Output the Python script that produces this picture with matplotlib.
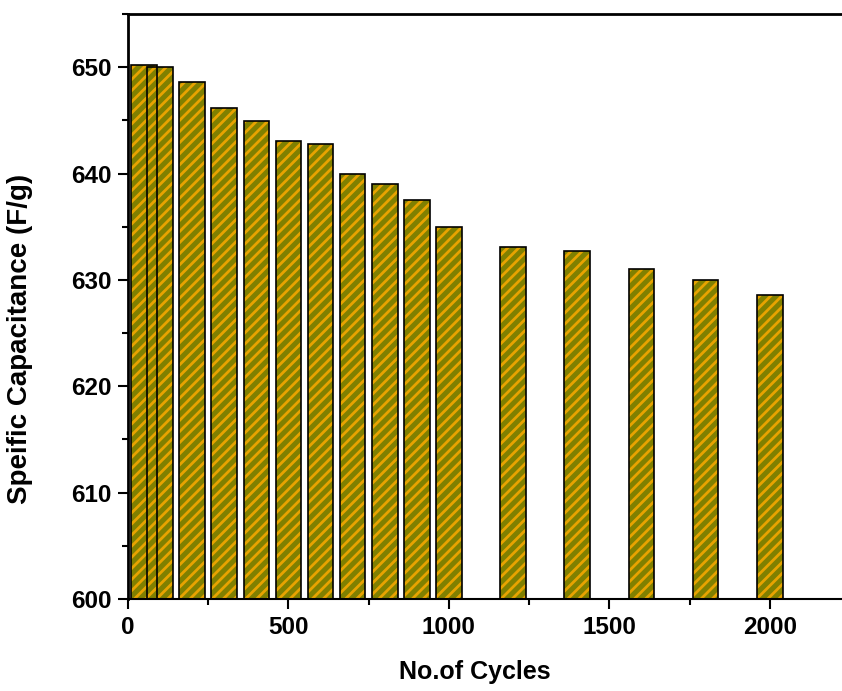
import matplotlib
matplotlib.use('Agg')
import matplotlib.pyplot as plt
from matplotlib.ticker import MultipleLocator

cycles = [50, 100, 200, 300, 400, 500, 600, 700, 800, 900, 1000,
          1200, 1400, 1600, 1800, 2000]
capacitance = [650.2, 650.0, 648.6, 646.2, 644.9, 643.1, 642.8, 640.0,
               639.0, 637.5, 635.0, 633.1, 632.7, 631.0, 630.0, 628.6]

plt.rcParams['font.family'] = ['Liberation Sans', 'DejaVu Sans']
plt.rcParams['font.weight'] = 'bold'
plt.rcParams['hatch.linewidth'] = 2.0

fig = plt.figure(figsize=(8.42, 6.91), dpi=100)
ax = fig.add_axes([128 / 842, 1 - 599 / 691, 714 / 842, 585 / 691])

# hatch layer (orange stripes on olive), then black outlines on top
heights = [c - 600 for c in capacitance]
ax.bar(cycles, heights, bottom=600, width=80,
       facecolor='#808000', edgecolor='#e8a300', hatch='///', linewidth=0)
ax.bar(cycles, heights, bottom=600, width=80,
       fill=False, edgecolor='black', linewidth=1.2)

ax.set_xlim(0, 2225)
ax.set_ylim(600, 655)
ax.xaxis.set_major_locator(MultipleLocator(500))
ax.xaxis.set_minor_locator(MultipleLocator(250))
ax.yaxis.set_major_locator(MultipleLocator(10))
ax.yaxis.set_minor_locator(MultipleLocator(5))

ax.spines['right'].set_visible(False)
for s in ['left', 'top']:
    ax.spines[s].set_linewidth(2.0)
ax.spines['bottom'].set_linewidth(1.5)

ax.tick_params(which='major', direction='out', length=7, width=1.5,
               labelsize=17.5, pad=5)
ax.tick_params(which='minor', direction='out', length=4, width=1.5)
for lab in ax.get_xticklabels() + ax.get_yticklabels():
    lab.set_fontweight('bold')

ax.set_xlabel('No.of Cycles', fontsize=18, fontweight='bold')
ax.set_ylabel('Speific Capacitance (F/g)', fontsize=20, fontweight='bold')
ax.xaxis.set_label_coords(0.486, -0.105)
ax.yaxis.set_label_coords(-0.133, 0.444)

fig.savefig('out.png', dpi=100)
